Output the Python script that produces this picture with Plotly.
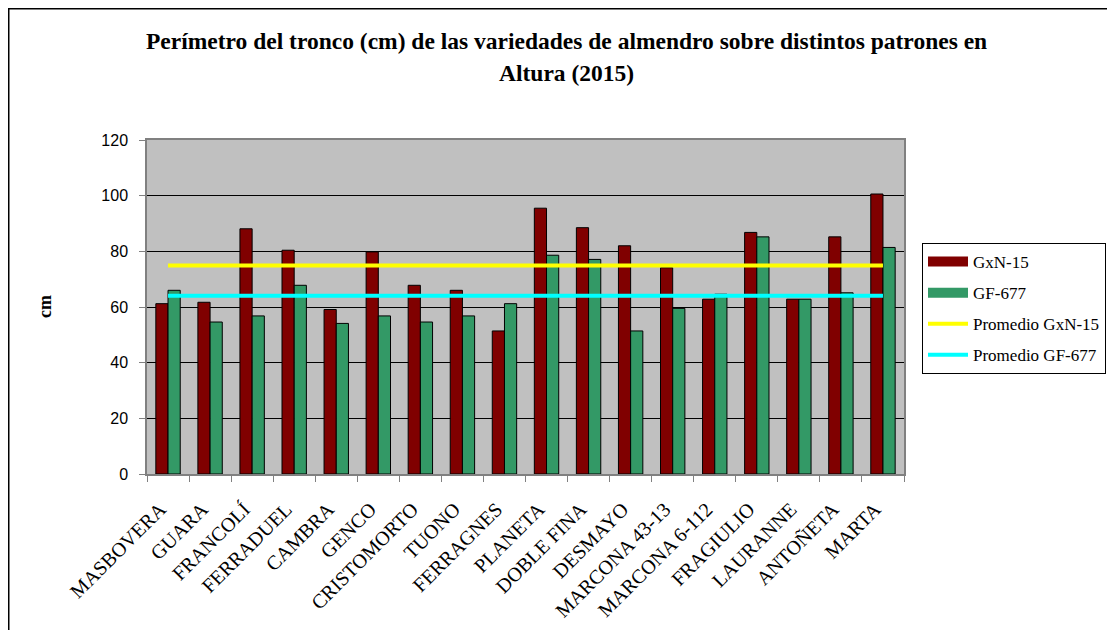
import plotly.graph_objects as go

categorias = ["MASBOVERA", "GUARA", "FRANCOLÍ", "FERRADUEL", "CAMBRA", "GENCO",
              "CRISTOMORTO", "TUONO", "FERRAGNES", "PLANETA", "DOBLE FINA", "DESMAYO",
              "MARCONA 43-13", "MARCONA 6-112", "FRAGIULIO", "LAURANNE", "ANTOÑETA", "MARTA"]
gxn15 = [61.2, 61.7, 88.1, 80.4, 59.1, 79.8, 67.8, 66.0, 51.4, 95.5, 88.5, 82.0,
         74.1, 62.8, 86.8, 62.8, 85.2, 100.6]
gf677 = [66.0, 54.6, 56.8, 67.8, 54.1, 56.8, 54.6, 56.8, 61.2, 78.6, 77.1, 51.4,
         59.5, 64.6, 85.2, 62.8, 65.1, 81.4]
promedio_gxn15 = [74.9] * len(categorias)
promedio_gf677 = [64.0] * len(categorias)
y_ticks = [0, 20, 40, 60, 80, 100, 120]

SERIF = "Liberation Serif, Times New Roman, serif"
SANS = "Liberation Sans, Arial, sans-serif"

OFF = 8  # page body margin offset
W, H = 1115 - OFF, 630 - OFF
L, R, T, B = 147, 904, 140, 474  # target screen pixels of plot area


def px(x):
    return (x - L) / (R - L)


def py(y):
    return (B - y) / (B - T)


fig = go.Figure()
fig.add_trace(go.Bar(x=categorias, y=gxn15, name="GxN-15", showlegend=False,
                     marker=dict(color="#800000", line=dict(color="black", width=1))))
fig.add_trace(go.Bar(x=categorias, y=gf677, name="GF-677", showlegend=False,
                     marker=dict(color="#339966", line=dict(color="black", width=1))))
# legend swatches for the bar series
fig.add_trace(go.Scatter(x=[None], y=[None], name="GxN-15", legendgroup="a",
                         mode="lines", line=dict(color="#800000", width=11)))
fig.add_trace(go.Scatter(x=[None], y=[None], name="GF-677", legendgroup="b",
                         mode="lines", line=dict(color="#339966", width=11)))
fig.add_trace(go.Scatter(x=categorias, y=promedio_gxn15, name="Promedio GxN-15",
                         legendgroup="c", mode="lines",
                         line=dict(color="#FFFF00", width=4)))
fig.add_trace(go.Scatter(x=categorias, y=promedio_gf677, name="Promedio GF-677",
                         legendgroup="d", mode="lines",
                         line=dict(color="#00FFFF", width=4)))

fig.update_layout(
    width=W, height=H,
    margin=dict(l=L - OFF, r=W - (R - OFF), t=T - OFF, b=H - (B - OFF), autoexpand=False),
    paper_bgcolor="white",
    plot_bgcolor="#C0C0C0",
    barmode="group",
    bargap=0.42,
    bargroupgap=0,
    showlegend=True,
    legend=dict(x=px(922), y=py(243), xanchor="left", yanchor="top",
                bordercolor="black", borderwidth=1, bgcolor="white",
                font=dict(family=SERIF, size=17, color="black"),
                tracegroupgap=6, itemwidth=40),
    xaxis=dict(type="category", tickson="boundaries", ticks="outside", ticklen=6,
               tickcolor="#808080", tickangle=-45,
               tickfont=dict(family=SERIF, size=20, color="black"),
               ticklabelshift=-8, ticklabelstandoff=14,
               showline=True, linecolor="#808080", linewidth=1.5, mirror=True,
               showgrid=False),
    yaxis=dict(range=[0, 120], tickvals=y_ticks, ticks="outside", ticklen=6,
               tickcolor="#808080",
               tickfont=dict(family=SANS, size=16, color="black"),
               showline=True, linecolor="#808080", linewidth=1.5, mirror=True,
               showgrid=True, gridcolor="black", gridwidth=1, zeroline=False,
               ticklabelstandoff=8),
    annotations=[
        dict(text="<b>Perímetro del tronco (cm) de las variedades de almendro sobre distintos patrones en</b>",
             xref="paper", yref="paper", x=px(566), y=py(41), xanchor="center",
             yanchor="middle", showarrow=False,
             font=dict(family=SERIF, size=23.5, color="black")),
        dict(text="<b>Altura (2015)</b>",
             xref="paper", yref="paper", x=px(566), y=py(73), xanchor="center",
             yanchor="middle", showarrow=False,
             font=dict(family=SERIF, size=23.5, color="black")),
        dict(text="<b>cm</b>", textangle=-90,
             xref="paper", yref="paper", x=px(45), y=py(307), xanchor="center",
             yanchor="middle", showarrow=False,
             font=dict(family=SERIF, size=18, color="black")),
    ],
    shapes=[
        dict(type="rect", xref="paper", yref="paper", x0=px(8.75), x1=px(1400),
             y0=py(900), y1=py(8.75), line=dict(color="black", width=1.5),
             fillcolor="rgba(0,0,0,0)", layer="below"),
    ],
)

fig.write_html("out.html")
